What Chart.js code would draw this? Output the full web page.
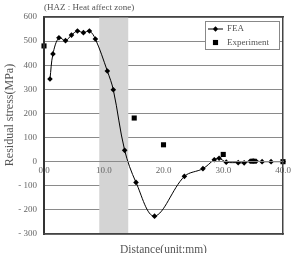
<!DOCTYPE html>
<html><head><meta charset="utf-8">
<script src="https://cdn.jsdelivr.net/npm/chart.js@4.4.0/dist/chart.umd.min.js"></script>
<style>html,body{margin:0;padding:0;background:#fff;overflow:hidden}</style>
</head><body>
<canvas id="c" width="291" height="253"></canvas>
<script>
// ---- data ----
const feaLabel = 'FEA';
const feaX = [1.0, 1.5, 2.5, 3.6, 4.6, 5.6, 6.6, 7.6, 8.6, 10.6, 11.6, 13.5, 15.4, 18.5, 23.5, 26.6, 28.5, 29.3, 30.5, 32.5, 33.5, 34.5, 35.0, 35.5, 36.5, 38.0, 40.0];
const feaY = [343, 447, 514, 502, 525, 542, 535, 542, 509, 376, 298, 47, -86, -226, -61, -29, 8, 14, -2, -4, -5, 2, 3, 2, 0, 0, 0];
const expLabel = 'Experiment';
const expX = [0.0, 15.1, 20.0, 30.0, 35.0, 40.0];
const expY = [480, 181, 70, 30, 2, 0];
const hazRange = [9.25, 14.1];
const xTickValues = [0, 10, 20, 30, 40];
const xTickLabels = ['0.0', '10.0', '20.0', '30.0', '40.0'];
const yTickValues = [-300, -200, -100, 0, 100, 200, 300, 400, 500, 600];
const yTickLabels = ['- 300', '- 200', '- 100', '0', '100', '200', '300', '400', '500', '600'];
const topTitle = '(HAZ : Heat affect zone)';
const xTitle = 'Distance(unit:mm)';
const yTitle = 'Residual stress(MPa)';

const SERIF = "'Liberation Serif', 'DejaVu Serif', serif";
Chart.defaults.font.family = SERIF;

const feaPts = feaX.map((x, i) => ({x, y: feaY[i]}));
const expPts = expX.map((x, i) => ({x, y: expY[i]}));

const hazPlugin = {
  id: 'haz',
  beforeDatasetsDraw(chart) {
    const {ctx, chartArea: a, scales: {x}} = chart;
    const x0 = x.getPixelForValue(hazRange[0]);
    const x1 = x.getPixelForValue(hazRange[1]);
    ctx.save();
    ctx.fillStyle = '#d4d4d4';
    ctx.fillRect(x0, a.top, x1 - x0, a.bottom - a.top);
    ctx.restore();
  }
};

const textPlugin = {
  id: 'ytitle',
  afterDraw(chart) {
    const ctx = chart.ctx;
    ctx.save();
    ctx.translate(10, 115);
    ctx.rotate(-Math.PI / 2);
    ctx.font = '12px ' + SERIF;
    ctx.fillStyle = '#555';
    ctx.textAlign = 'center';
    ctx.textBaseline = 'middle';
    ctx.fillText(yTitle, 0, 0);
    ctx.restore();
  }
};

const legendPlugin = {
  id: 'boxLegend',
  afterDatasetsDraw(chart) {
    const ctx = chart.ctx;
    const bx = 205.5, by = 21.5, bw = 74, bh = 28;
    ctx.save();
    ctx.fillStyle = '#fff';
    ctx.fillRect(bx, by, bw, bh);
    ctx.strokeStyle = '#888';
    ctx.lineWidth = 1;
    ctx.strokeRect(bx, by, bw, bh);
    const items = [chart.data.datasets[1], chart.data.datasets[0]];
    items.forEach((ds, i) => {
      const cy = by + 7.5 + i * 13.5;
      const cx = 215.5;
      if (ds.showLine !== false) {
        ctx.strokeStyle = ds.borderColor;
        ctx.lineWidth = 1;
        ctx.beginPath();
        ctx.moveTo(208, cy);
        ctx.lineTo(223, cy);
        ctx.stroke();
      }
      Chart.helpers.drawPoint(ctx, {pointStyle: ds.pointStyle, radius: ds.pointRadius, rotation: 0, borderWidth: 0}, cx, cy);
      ctx.fillStyle = '#000';
      ctx.fill();
      ctx.fillStyle = '#555';
      ctx.font = '9px ' + SERIF;
      ctx.textAlign = 'left';
      ctx.textBaseline = 'middle';
      ctx.fillText(ds.label, 227, cy);
    });
    ctx.restore();
  }
};

new Chart(document.getElementById('c'), {
  type: 'scatter',
  data: {
    datasets: [
      {
        label: expLabel, data: expPts, showLine: false,
        pointStyle: 'rect', pointRadius: 3.6, pointHoverRadius: 3.6,
        backgroundColor: '#000', borderColor: '#000', borderWidth: 0,
        xAxisID: 'x', yAxisID: 'y', clip: false
      },
      {
        label: feaLabel, data: feaPts, showLine: true, tension: 0.35,
        pointStyle: 'rectRot', pointRadius: 2.8, pointHoverRadius: 2.8,
        backgroundColor: '#000', borderColor: '#000', borderWidth: 1, pointBorderWidth: 0,
        xAxisID: 'x', yAxisID: 'y', clip: false
      }
    ]
  },
  options: {
    responsive: false, animation: false, devicePixelRatio: 1,
    layout: {padding: 0},
    plugins: {legend: {display: false}, tooltip: {enabled: false}, title: {display: false}},
    scales: {
      x: {
        type: 'linear', min: 0, max: 40, position: {y: 0},
        afterBuildTicks(s) { s.ticks = xTickValues.map(v => ({value: v})); },
        afterFit(s) { s.height = 0; s.paddingLeft = 0; s.paddingRight = 0; },
        ticks: {
          callback: v => xTickLabels[xTickValues.indexOf(v)],
          font: {size: 9}, color: '#666', padding: 4, maxRotation: 0, autoSkip: false, z: 1
        },
        grid: {drawOnChartArea: false, drawTicks: false},
        border: {display: true, color: '#8a8a8a', width: 1, z: 1}
      },
      y: {
        type: 'linear', min: -300, max: 600, position: 'left',
        afterBuildTicks(s) { s.ticks = yTickValues.map(v => ({value: v})); },
        afterFit(s) { s.width = 44; },
        ticks: {
          callback: v => yTickLabels[yTickValues.indexOf(v)],
          font: {size: 9}, color: '#666', padding: 7, autoSkip: false
        },
        grid: {color: '#8a8a8a', lineWidth: 1, drawTicks: false},
        border: {display: true, color: '#333', width: 2, z: 1}
      },
      yR: {
        type: 'linear', position: 'right', min: 0, max: 1,
        afterFit(s) { s.width = 8; },
        ticks: {display: false}, grid: {display: false},
        border: {display: true, color: '#444', width: 1.5, z: 1}
      },
      xTop: {
        type: 'linear', position: 'top', min: 0, max: 1,
        afterFit(s) { s.height = 17; },
        ticks: {display: false}, grid: {display: false},
        border: {display: true, color: '#444', width: 1.5, z: 1},
        title: {display: true, text: topTitle, align: 'start', color: '#555',
                font: {size: 9, lineHeight: 1}, padding: {top: 3, bottom: 0}}
      },
      xB: {
        type: 'linear', position: 'bottom', min: 0, max: 1,
        afterFit(s) { s.height = 19; },
        ticks: {display: false}, grid: {display: false},
        border: {display: true, color: '#444', width: 1.5, z: 1},
        title: {display: true, text: xTitle, align: 'center', color: '#555',
                font: {size: 11.5, lineHeight: 1}, padding: {top: 0, bottom: -3}}
      }
    }
  },
  plugins: [hazPlugin, legendPlugin, textPlugin]
});
</script>
</body></html>
